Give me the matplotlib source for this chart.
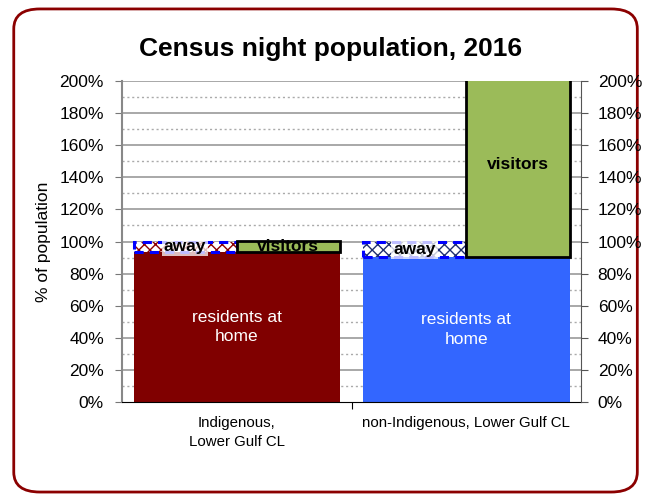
import numpy as np
import matplotlib.pyplot as plt
from matplotlib.patches import FancyBboxPatch

plt.rcParams['font.family'] = ['Liberation Sans', 'DejaVu Sans']

# Daten (in % der Bevoelkerung)
categories = ['Indigenous,\nLower Gulf CL', 'non-Indigenous, Lower Gulf CL']
residents = [93.5, 90.3]
away = [6.5, 9.7]
visitors = [7.0, 200.0]
y_ticks = [0, 20, 40, 60, 80, 100, 120, 140, 160, 180, 200]
y_labels = ['%d%%' % v for v in y_ticks]

dark_red = '#800000'
blue = '#3366ff'
green = '#9bbb59'
hatch_cols = ['#8b0000', '#1f2f6f']
res_cols = [dark_red, blue]

fig = plt.figure(figsize=(6.55, 4.97), dpi=100)

# Rahmen mit runden Ecken
frame = FancyBboxPatch((0.021, 0.01), 0.952, 0.972, boxstyle='round,pad=0,rounding_size=0.04',
                       transform=fig.transFigure, facecolor='none', edgecolor='#8b0000',
                       linewidth=2, zorder=-1)
fig.patches.append(frame)

ax = fig.add_axes([0.1863, 0.1911, 0.7008, 0.6459])
ax.set_facecolor('none')
x = np.arange(len(categories))
w = 0.9

# Gitterlinien
for v in range(10, 200, 20):
    ax.axhline(v, color='#aaaaaa', linestyle=(0, (1.5, 2)), linewidth=1, zorder=0)
for v in range(20, 201, 20):
    ax.axhline(v, color='#999999', linewidth=1.2, zorder=0)

# Bewohner zu Hause
ax.bar(x, residents, width=w, color=res_cols, linewidth=0, zorder=2)

# abwesend (linke Haelfte) mit Muster
for i in range(len(x)):
    ax.bar(x[i] - w / 4, away[i], width=w / 2, bottom=residents[i], color='white',
           edgecolor=hatch_cols[i], hatch='xxx', linewidth=0, zorder=2)
    ax.bar(x[i] - w / 4, away[i], width=w / 2, bottom=residents[i], facecolor='none',
           edgecolor='#0000ff', linestyle=(0, (3, 2)), linewidth=2.2, zorder=3)
    ax.text(x[i] - w / 4, residents[i] + away[i] / 2, 'away', ha='center', va='center',
            fontsize=12.5, fontweight='bold', zorder=5,
            bbox=dict(facecolor='white', alpha=0.75, edgecolor='none', pad=1.5))

# Besucher (rechte Haelfte)
ax.bar(x + w / 4, visitors, width=w / 2, bottom=residents, color=green,
       edgecolor='black', linewidth=2, zorder=4)
for i in range(len(x)):
    top = min(residents[i] + visitors[i], 200)
    ax.text(x[i] + w / 4, (residents[i] + top) / 2 + (3 if top >= 200 else 0), 'visitors',
            ha='center', va='center', fontsize=12.5, fontweight='bold', zorder=5)
    ax.text(x[i], residents[i] / 2, 'residents at\nhome', ha='center', va='center',
            fontsize=12.5, color='white', zorder=5, linespacing=1.35)

ax.set_xlim(-0.5, 1.5)
ax.set_ylim(0, 200)
ax.set_yticks(y_ticks)
ax.set_yticklabels(y_labels, fontsize=12.5)
ax.set_xticks([0.5])
ax.set_xticklabels([''])
ax.set_xticks(x, minor=True)
ax.set_xticklabels(categories, minor=True, fontsize=10.8, linespacing=1.45)
ax.tick_params(axis='x', which='minor', length=0, pad=10)
ax.tick_params(axis='x', which='major', length=5, direction='out', color='black')
ax.tick_params(axis='y', length=5, direction='out', color='#777777', pad=8)
ax.set_ylabel('% of population', fontsize=12.5, labelpad=6)
for s in ['top', 'right']:
    ax.spines[s].set_visible(False)
ax.spines['left'].set_color('#888888')
ax.spines['left'].set_linewidth(1.5)
ax.spines['bottom'].set_color('black')
ax.spines['bottom'].set_zorder(6)

ax2 = ax.twinx()
ax2.set_ylim(0, 200)
ax2.set_yticks(y_ticks)
ax2.set_yticklabels(y_labels, fontsize=12.5)
ax2.tick_params(axis='y', length=5, direction='out', color='#555555', pad=7)
for s in ['top', 'left', 'bottom']:
    ax2.spines[s].set_visible(False)
ax2.spines['right'].set_color('#555555')

fig.text(0.505, 0.902, 'Census night population, 2016', ha='center', va='center',
         fontsize=19, fontweight='bold')

plt.savefig('out.png', dpi=100)
